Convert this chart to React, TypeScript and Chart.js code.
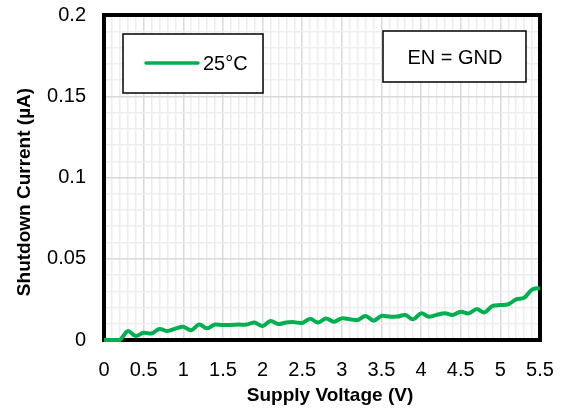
import React, { useEffect, useRef } from "react";
import { Chart, registerables } from "chart.js";

Chart.register(...registerables);

const voltages = [
  0, 0.1, 0.2, 0.3, 0.4, 0.5, 0.6, 0.7, 0.8, 0.9,
  1.0, 1.1, 1.2, 1.3, 1.4, 1.5, 1.6, 1.7, 1.8, 1.9,
  2.0, 2.1, 2.2, 2.3, 2.4, 2.5, 2.6, 2.7, 2.8, 2.9,
  3.0, 3.1, 3.2, 3.3, 3.4, 3.5, 3.6, 3.7, 3.8, 3.9,
  4.0, 4.1, 4.2, 4.3, 4.4, 4.5, 4.6, 4.7, 4.8, 4.9,
  5.0, 5.1, 5.2, 5.3, 5.4, 5.5,
];
const current25C = [
  0, 0, 0, 0.0055, 0.0025, 0.0045, 0.004, 0.0068, 0.0055, 0.007,
  0.0082, 0.006, 0.0095, 0.0072, 0.0095, 0.0092, 0.0093, 0.0095, 0.0095, 0.0108,
  0.0086, 0.0117, 0.0098, 0.0108, 0.011, 0.0105, 0.013, 0.0107, 0.0133, 0.0113,
  0.0133, 0.0128, 0.0123, 0.0148, 0.0119, 0.0148, 0.0144, 0.0144, 0.0154, 0.0127,
  0.0164, 0.0143, 0.0155, 0.0164, 0.0154, 0.0174, 0.0164, 0.019, 0.017, 0.0209,
  0.0215, 0.022, 0.025, 0.026, 0.031, 0.032,
];
const seriesLabel = "25°C";
const noteLabel = "EN = GND";
const xTitle = "Supply Voltage (V)";
const yTitle = "Shutdown Current (µA)";

const FONT = "'Liberation Sans', Arial, sans-serif";
const GREEN = "#00b050";

const isMultiple = (v: number, step: number) => {
  const r = v / step;
  return Math.abs(r - Math.round(r)) < 1e-6;
};

export default function App() {
  const ref = useRef<HTMLCanvasElement>(null);

  useEffect(() => {
    document.body.style.margin = "0";
    const canvas = ref.current;
    if (!canvas) return;

    const framePlugin = {
      id: "frame",
      beforeDatasetsDraw(chart: any) {
        const { ctx, chartArea: a } = chart;
        ctx.save();
        ctx.strokeStyle = "#000";
        ctx.lineWidth = 4;
        ctx.strokeRect(a.left, a.top, a.right - a.left, a.bottom - a.top);
        ctx.restore();
      },
      afterDraw(chart: any) {
        const { ctx } = chart;
        ctx.save();
        // axis titles
        ctx.fillStyle = "#000";
        ctx.font = `bold 19px ${FONT}`;
        ctx.textAlign = "center";
        ctx.textBaseline = "middle";
        ctx.fillText(xTitle, 330, 396);
        ctx.save();
        ctx.translate(25, 192);
        ctx.rotate(-Math.PI / 2);
        ctx.fillText(yTitle, 0, 0);
        ctx.restore();
        // legend box
        ctx.fillStyle = "#fff";
        ctx.strokeStyle = "#000";
        ctx.lineWidth = 1.5;
        ctx.fillRect(123, 34, 140, 59);
        ctx.strokeRect(123, 34, 140, 59);
        ctx.strokeStyle = GREEN;
        ctx.lineWidth = 3.5;
        ctx.lineCap = "round";
        ctx.beginPath();
        ctx.moveTo(146, 63);
        ctx.lineTo(198, 63);
        ctx.stroke();
        ctx.fillStyle = "#000";
        ctx.font = `20px ${FONT}`;
        ctx.textAlign = "left";
        ctx.textBaseline = "middle";
        ctx.fillText(seriesLabel, 203, 64);
        // note box
        ctx.fillStyle = "#fff";
        ctx.strokeStyle = "#000";
        ctx.lineWidth = 1.5;
        ctx.fillRect(383, 31, 143, 51);
        ctx.strokeRect(383, 31, 143, 51);
        ctx.fillStyle = "#000";
        ctx.textAlign = "center";
        ctx.fillText(noteLabel, 455, 58);
        ctx.restore();
      },
    };

    const chart = new Chart(canvas, {
      type: "line",
      data: {
        datasets: [
          {
            label: seriesLabel,
            data: voltages.map((x, i) => ({ x, y: current25C[i] })),
            borderColor: GREEN,
            backgroundColor: GREEN,
            borderWidth: 4,
            pointRadius: 0,
            tension: 0.35,
            clip: 6 as any,
          },
        ],
      },
      options: {
        animation: false,
        responsive: false,
        devicePixelRatio: 1,
        layout: { padding: { left: 0, top: 15, right: 23, bottom: 0 } },
        plugins: { legend: { display: false }, tooltip: { enabled: false } },
        scales: {
          x: {
            type: "linear",
            min: 0,
            max: 5.5,
            afterFit(scale: any) {
              scale.height = 72;
              scale.paddingLeft = 0;
              scale.paddingRight = 0;
            },
            afterBuildTicks(scale: any) {
              const t = [];
              for (let i = 0; i <= 55; i++) t.push({ value: i / 10 });
              scale.ticks = t;
            },
            ticks: {
              autoSkip: false,
              maxRotation: 0,
              padding: 18,
              color: "#000",
              font: { family: FONT, size: 20 },
              callback: (v: any) => (isMultiple(Number(v), 0.5) ? String(Math.round(Number(v) * 10) / 10) : ""),
            },
            grid: {
              drawTicks: false,
              color: (c: any) => (isMultiple(c.tick.value, 0.5) ? "#d9d9d9" : "#ededed"),
              lineWidth: 1.5,
            },
            border: { display: false },
            title: { display: false, text: xTitle },
          },
          y: {
            type: "linear",
            min: 0,
            max: 0.2,
            afterFit(scale: any) {
              scale.width = 104;
              scale.paddingTop = 0;
              scale.paddingBottom = 0;
            },
            afterBuildTicks(scale: any) {
              const t = [];
              for (let i = 0; i <= 20; i++) t.push({ value: i / 100 });
              scale.ticks = t;
            },
            ticks: {
              autoSkip: false,
              padding: 18,
              color: "#000",
              font: { family: FONT, size: 20 },
              callback: (v: any) => (isMultiple(Number(v), 0.05) ? String(Math.round(Number(v) * 100) / 100) : ""),
            },
            grid: {
              drawTicks: false,
              color: (c: any) => (isMultiple(c.tick.value, 0.05) ? "#d9d9d9" : "#ededed"),
              lineWidth: 1.5,
            },
            border: { display: false },
            title: { display: false, text: yTitle },
          },
        },
      },
      plugins: [framePlugin],
    });

    return () => chart.destroy();
  }, []);

  return (
    <div style={{ width: 563, height: 412 }}>
      <canvas ref={ref} width={563} height={412} style={{ display: "block" }} />
    </div>
  );
}
